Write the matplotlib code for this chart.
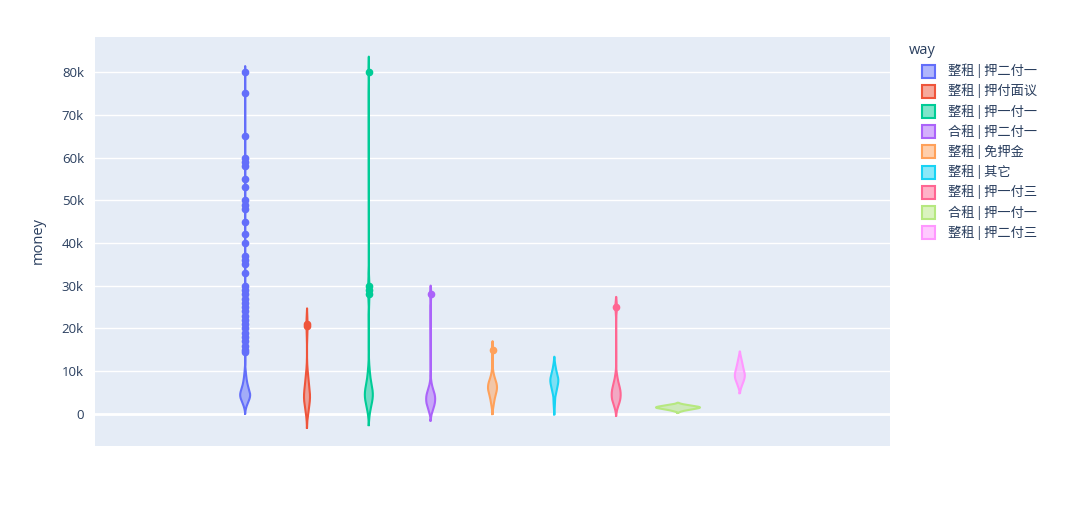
import numpy as np
import matplotlib
matplotlib.use("Agg")
import matplotlib.pyplot as plt
from matplotlib.patches import Rectangle

# rent categories ("way") in legend order
ways = ["整租 | 押二付一", "整租 | 押付面议", "整租 | 押一付一", "合租 | 押二付一",
        "整租 | 免押金", "整租 | 其它", "整租 | 押一付三", "合租 | 押一付一", "整租 | 押二付三"]

# money samples (value, count) per category
money_0 = [1500, 2500, 3500, 4500, 5500, 6500, 7500, 8500, 9500, 10500,
           14500, 15000, 16000, 17000, 18000, 19000, 20000, 21000, 22000, 23000, 24000,
           25000, 26000, 27000, 28000, 29000, 30000, 33000, 35000, 36000, 37000, 40000,
           42000, 45000, 48000, 49000, 50000, 53000, 55000, 58000, 59000, 60000, 65000,
           75000, 80000]
count_0 = [15, 40, 75, 90, 70, 45, 30, 20, 12, 6] + [1] * 35
money_1 = [500, 1500, 3000, 4000, 5000, 6500, 8000, 9500, 20500, 21000]
count_1 = [1, 2, 3, 3, 3, 2, 2, 1, 1, 1]
money_2 = [1000, 2500, 3500, 4500, 5500, 6500, 8000, 10000, 28000, 29000, 30000, 80000]
count_2 = [2, 3, 4, 5, 4, 3, 2, 2, 1, 1, 1, 1]
money_3 = [500, 1500, 2500, 3500, 4500, 5500, 7000, 28000]
count_3 = [1, 2, 3, 3, 3, 2, 1, 1]
money_4 = [2000, 3500, 5000, 6000, 7000, 8000, 9500, 15000]
count_4 = [1, 2, 3, 3, 3, 2, 1, 1]
money_5 = [2300, 5000, 6000, 7500, 8500, 10000, 11000]
count_5 = [1, 1, 2, 3, 3, 1, 1]
money_6 = [2000, 3000, 4000, 5000, 6000, 7000, 8500, 25000]
count_6 = [1, 2, 2, 2, 2, 1, 1, 1]
money_7 = [800, 1200, 1500, 1800, 2100]
count_7 = [1, 2, 3, 2, 1]
money_8 = [7000, 8000, 9000, 10000, 11000, 12500]
count_8 = [1, 1, 2, 1, 1, 1]

money = [money_0, money_1, money_2, money_3, money_4, money_5, money_6, money_7, money_8]
counts = [count_0, count_1, count_2, count_3, count_4, count_5, count_6, count_7, count_8]

colors = ["#636EFA", "#EF553B", "#00CC96", "#AB63FA", "#FFA15A",
          "#19D3F3", "#FF6692", "#B6E880", "#FF97FF"]
# full violin widths in pixels as seen in the picture
width_px = [10, 6, 8, 9, 9, 8, 9, 44, 10]

W, H = 1080, 513
fig = plt.figure(figsize=(W / 100, H / 100), dpi=100)
ax = fig.add_axes([95 / W, 1 - 446 / H, (890 - 95) / W, (446 - 37) / H])
ax.set_facecolor("#E5ECF6")
ax.set_xlim(-0.5, 0.5)
ax.set_ylim(-7500, 88200)

slot = 0.7 / len(ways)
px_per_unit = 795.0

for i, (vals, cnt) in enumerate(zip(money, counts)):
    data = np.repeat(np.array(vals, float), cnt)
    n = len(data)
    q1, q3 = np.percentile(data, [25, 75])
    iqr = q3 - q1
    sig = min(data.std(ddof=1), iqr / 1.349) if iqr > 0 else data.std(ddof=1)
    bw = 1.059 * sig * n ** -0.2
    ys = np.linspace(data.min() - 2 * bw, data.max() + 2 * bw, 1500)
    dens = np.exp(-0.5 * ((ys[:, None] - data[None, :]) / bw) ** 2).sum(axis=1)
    half = dens / dens.max() * (width_px[i] / 2) / px_per_unit
    xc = -0.35 + (i + 0.5) * slot
    ax.fill_betweenx(ys, xc - half, xc + half, facecolor=colors[i], alpha=0.5,
                     edgecolor="none", zorder=3)
    ax.plot(np.concatenate([xc - half, (xc + half)[::-1], [xc - half[0]]]),
            np.concatenate([ys, ys[::-1], [ys[0]]]),
            color=colors[i], lw=1.5, zorder=4, solid_joinstyle="round")
    # outlier points beyond the 1.5 IQR fences
    hi = q3 + 1.5 * iqr
    lo = q1 - 1.5 * iqr
    out = np.unique(data[(data > hi) | (data < lo)])
    ax.plot(np.full(len(out), xc), out, "o", color=colors[i], ms=4.5, zorder=5)

yticks = [0, 10000, 20000, 30000, 40000, 50000, 60000, 70000, 80000]
ylabels = ["0", "10k", "20k", "30k", "40k", "50k", "60k", "70k", "80k"]
ax.set_yticks(yticks)
ax.set_yticklabels(ylabels, fontsize=9.5, color="#2a3f5f", family="Open Sans")
ax.set_xticks([])
ax.tick_params(axis="y", length=0, pad=8)
ax.grid(axis="y", color="white", lw=1, zorder=0)
ax.axhline(0, color="white", lw=2, zorder=1)
for s in ax.spines.values():
    s.set_visible(False)
ax.set_axisbelow(True)

fig.text(38 / W, 1 - 241 / H, "money", rotation=90, ha="center", va="center",
         fontsize=10.5, color="#2a3f5f", family="Open Sans")

# legend
fig.text(909 / W, 1 - 50 / H, "way", ha="left", va="center", fontsize=10.5,
         color="#2a3f5f", family="Open Sans")
for i, lab in enumerate(ways):
    yc = 71 + i * 20.2
    fig.patches.append(Rectangle((922 / W, 1 - (yc + 6.5) / H), 13 / W, 13 / H,
                                 transform=fig.transFigure, facecolor=colors[i],
                                 alpha=0.5, edgecolor="none"))
    fig.patches.append(Rectangle((922 / W, 1 - (yc + 6.5) / H), 13 / W, 13 / H,
                                 transform=fig.transFigure, facecolor="none",
                                 edgecolor=colors[i], lw=1.5))
    fig.text(948 / W, 1 - yc / H, lab, ha="left", va="center", fontsize=9.5,
             color="#2a3f5f", family=["Noto Sans CJK SC", "DejaVu Sans"])

fig.savefig("out.png", dpi=100, facecolor="white")
